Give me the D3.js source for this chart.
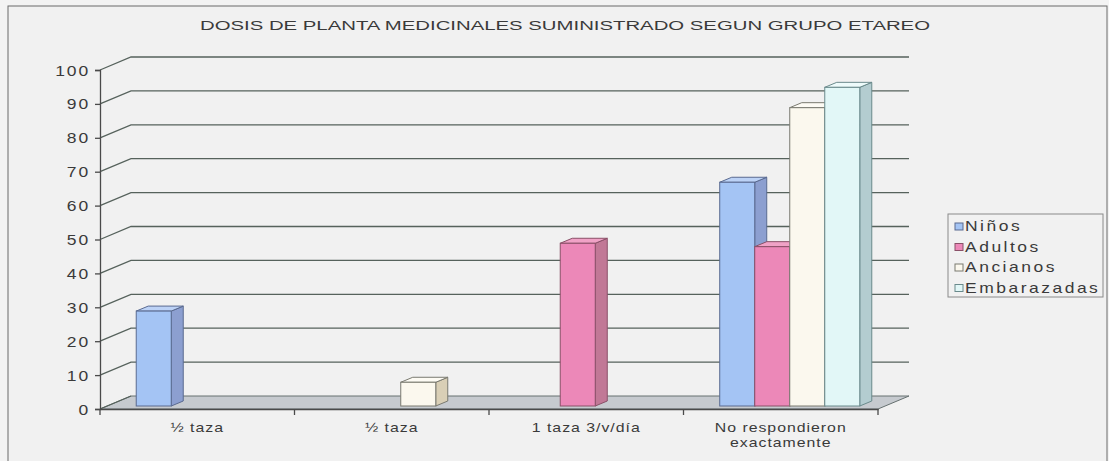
<!DOCTYPE html>
<html>
<head>
<meta charset="utf-8">
<script src="https://cdn.jsdelivr.net/npm/d3@7"></script>
<style>
  body { margin: 0; background: #f3f3f3; }
  text { font-family: "Liberation Sans", Arial, sans-serif; fill: #3a3a3a; }
</style>
</head>
<body>
<script>
var w = 1109;
var h = 461;

// data
var categories = ["½ taza", "½ taza ", "1 taza 3/v/día", "No respondieron exactamente"];
var series = ["Niños", "Adultos", "Ancianos", "Embarazadas"];
var ninos       = [28, 0, 0, 66];
var adultos     = [0, 0, 48, 47];
var ancianos    = [0, 7, 0, 88];
var embarazadas = [0, 0, 0, 94];
var yTicks = [0, 10, 20, 30, 40, 50, 60, 70, 80, 90, 100];
var values = [ninos, adultos, ancianos, embarazadas];

var fronts = ["#a4c4f4", "#ec88b8", "#fbf8ee", "#e2f7f7"];
var sides  = ["#8c9fd0", "#c17896", "#d9cfb6", "#b3ccd0"];
var tops   = ["#bcd2f6", "#f0a2c6", "#fdfbf4", "#eefbfb"];
var strokes = ["#5a6a90", "#8a5068", "#7a7a70", "#6a8a8c"];

// depth of the floor and of the bars
var depth = {dx: 31, dy: -13};
var barShift = {dx: 9, dy: -3};
var barDepth = {dx: 12, dy: -5};

var svg = d3.select("body")
  .append("svg")
  .attr("width", w)
  .attr("height", h);

svg.append("rect")
  .attr("x", 8).attr("y", 6)
  .attr("width", 1099).attr("height", 480)
  .attr("fill", "#f1f1f1")
  .attr("stroke", "#6b6b6b");

var y = d3.scaleLinear().domain([0, 100]).range([409, 70]);
var x0 = d3.scaleBand().domain(categories).range([100, 878]);
var bw = x0.bandwidth();
var x1 = d3.scaleBand().domain(series).range([bw * 0.14, bw * 0.86]);

// stretched text helper (reference looks horizontally stretched)
function stretch(sel, x, yy, sx) {
  sel.attr("transform", "translate(" + x + "," + yy + ") scale(" + sx + ",1)");
}

// title
svg.append("text")
  .attr("x", 565).attr("y", 30)
  .attr("text-anchor", "middle")
  .attr("font-size", 12)
  .attr("fill", "#444")
  .attr("textLength", 730)
  .attr("lengthAdjust", "spacingAndGlyphs")
  .text("DOSIS DE PLANTA MEDICINALES SUMINISTRADO SEGUN GRUPO ETAREO");

var left = x0.range()[0], right = x0.range()[1];

// floor
var floor = [[left, y(0)], [right, y(0)], [right + depth.dx, y(0) + depth.dy], [left + depth.dx, y(0) + depth.dy]];
svg.append("path")
  .attr("d", "M" + floor.join("L") + "Z")
  .attr("fill", "#c6cacf")
  .attr("stroke", "#667070");

// gridlines on the back wall and diagonals on the left
var grid = svg.append("g").attr("stroke", "#56625c").attr("stroke-width", 1.3).attr("fill", "none");
grid.selectAll("path.g")
  .data(yTicks.filter(function(d){ return d > 0; }))
  .enter()
  .append("path")
  .attr("d", function(d){
    var yy = y(d);
    return "M" + left + "," + yy + "L" + (left + depth.dx) + "," + (yy + depth.dy) +
      "L" + (right + depth.dx) + "," + (yy + depth.dy);
  });
grid.append("path")
  .attr("d", "M" + left + "," + y(0) + "L" + (left + depth.dx) + "," + (y(0) + depth.dy));

// bars, drawn left to right so each front covers the previous side
var bars = [];
values.forEach(function(vals, si){
  vals.forEach(function(v, ci){
    if (v > 0) bars.push({s: si, c: ci, v: v});
  });
});
bars.sort(function(a, b){ return (a.c - b.c) || (a.s - b.s); });

var bg = svg.append("g");
bars.forEach(function(b){
  var xl = x0(categories[b.c]) + x1(series[b.s]) + barShift.dx;
  var xr = xl + x1.bandwidth();
  var yb = y(0) + barShift.dy;
  var yt = y(b.v) + barShift.dy;
  var g = bg.append("g").attr("stroke", strokes[b.s]).attr("stroke-width", 1);
  g.append("path")
    .attr("d", "M" + xr + "," + yb + "L" + (xr + barDepth.dx) + "," + (yb + barDepth.dy) +
      "L" + (xr + barDepth.dx) + "," + (yt + barDepth.dy) + "L" + xr + "," + yt + "Z")
    .attr("fill", sides[b.s]);
  g.append("path")
    .attr("d", "M" + xl + "," + yt + "L" + (xl + barDepth.dx) + "," + (yt + barDepth.dy) +
      "L" + (xr + barDepth.dx) + "," + (yt + barDepth.dy) + "L" + xr + "," + yt + "Z")
    .attr("fill", tops[b.s]);
  g.append("rect")
    .attr("x", xl).attr("y", yt)
    .attr("width", x1.bandwidth()).attr("height", yb - yt)
    .attr("fill", fronts[b.s]);
});

// y axis
var yAxis = svg.append("g")
  .attr("transform", "translate(" + left + ",0)")
  .call(d3.axisLeft(y).tickValues(yTicks).tickSize(5).tickPadding(7));
yAxis.select(".domain").attr("stroke", "#4a4a4a").attr("stroke-width", 1.3);
yAxis.selectAll(".tick line").attr("stroke", "#4a4a4a").attr("stroke-width", 1.3);
yAxis.selectAll(".tick text").each(function(){
  var t = d3.select(this);
  t.attr("font-size", 14).attr("font-family", null).attr("fill", "#3a3a3a")
    .attr("letter-spacing", 1.5).attr("x", null).attr("dy", "0.36em");
  stretch(t, -10, 0, 1.25);
});

// x axis
var xAxis = svg.append("g")
  .attr("transform", "translate(0," + y(0) + ")")
  .call(d3.axisBottom(x0).tickSize(0).tickPadding(0));
xAxis.select(".domain").attr("stroke", "#4a4a4a").attr("stroke-width", 1.3);
xAxis.selectAll(".tick text").each(function(d){
  var t = d3.select(this).attr("font-size", 13).attr("font-family", null)
    .attr("fill", "#3a3a3a").attr("letter-spacing", 0.8).attr("y", null).attr("dy", null);
  var words = d.trim() === "No respondieron exactamente" ? ["No respondieron", "exactamente"] : [d.trim()];
  t.text(null);
  words.forEach(function(wd, i){
    t.append("tspan").attr("x", 0).attr("y", 23 + i * 15).text(wd);
  });
  stretch(t, 0, 0, 1.22);
});
xAxis.selectAll("line.b")
  .data(d3.range(categories.length + 1))
  .enter()
  .append("line")
  .attr("class", "b")
  .attr("x1", function(i){ return left + i * x0.step(); })
  .attr("x2", function(i){ return left + i * x0.step(); })
  .attr("y1", 0).attr("y2", 6)
  .attr("stroke", "#4a4a4a").attr("stroke-width", 1.3);

// legend
var lg = svg.append("g").attr("transform", "translate(948,214)");
lg.append("rect")
  .attr("width", 155).attr("height", 83)
  .attr("fill", "#f1f1f1").attr("stroke", "#8a8a8a");
series.forEach(function(s, i){
  lg.append("rect")
    .attr("x", 7).attr("y", 9 + i * 20.5)
    .attr("width", 8).attr("height", 7)
    .attr("fill", fronts[i]).attr("stroke", strokes[i]);
  var t = lg.append("text")
    .attr("font-size", 14).attr("letter-spacing", 2)
    .text(s);
  stretch(t, 17, 17 + i * 20.5, 1.25);
});
</script>
</body>
</html>
